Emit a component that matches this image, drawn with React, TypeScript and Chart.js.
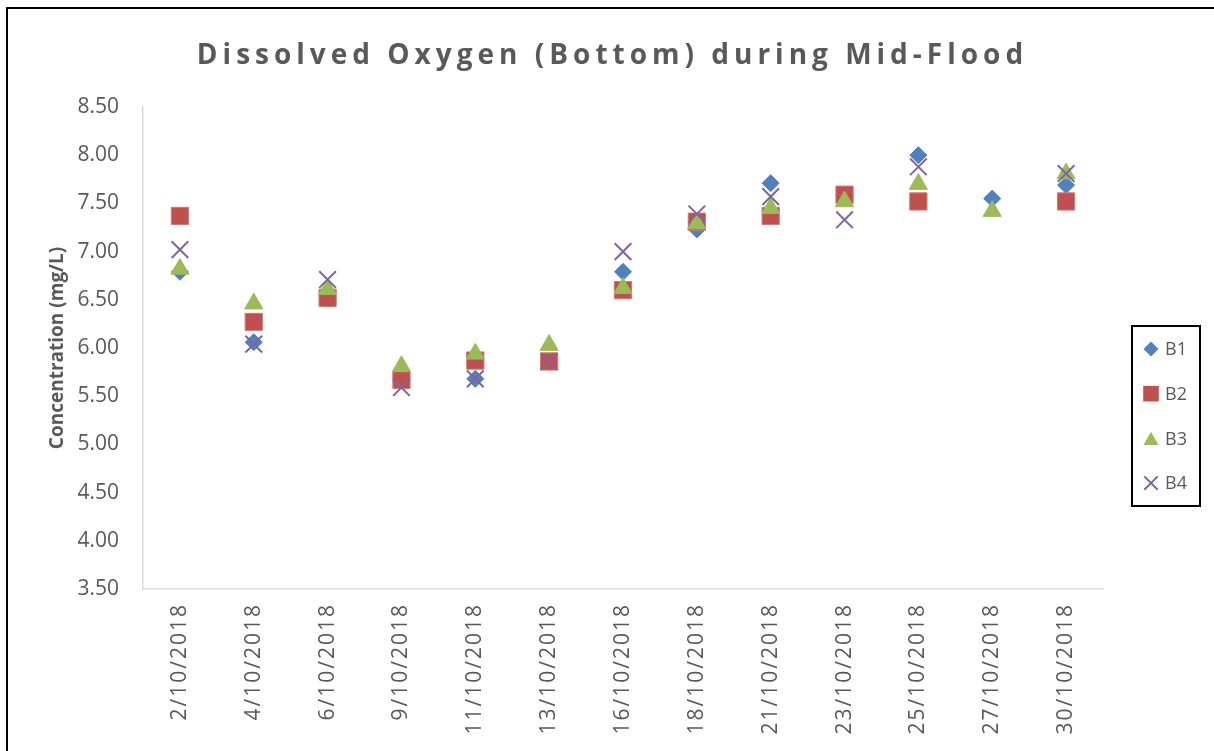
import React, { useEffect, useRef } from 'react';
import { Chart, registerables } from 'chart.js';

Chart.register(...registerables);

const categories = [
  '2/10/2018', '4/10/2018', '6/10/2018', '9/10/2018', '11/10/2018', '13/10/2018',
  '16/10/2018', '18/10/2018', '21/10/2018', '23/10/2018', '25/10/2018', '27/10/2018', '30/10/2018',
];
const seriesNames = ['B1', 'B2', 'B3', 'B4'];
const b1 = [6.79, 6.06, 6.52, 5.67, 5.68, 5.86, 6.79, 7.23, 7.71, 7.58, 8.0, 7.55, 7.69];
const b2 = [7.37, 6.27, 6.52, 5.67, 5.87, 5.86, 6.6, 7.31, 7.37, 7.59, 7.52, null, 7.52];
const b3 = [6.82, 6.46, 6.61, 5.81, 5.94, 6.03, 6.62, 7.29, 7.45, 7.52, 7.7, 7.42, 7.81];
const b4 = [7.02, 6.04, 6.71, 5.59, 5.68, 5.86, 7.0, 7.39, 7.57, 7.33, 7.88, null, 7.81];
const yMin = 3.5;
const yMax = 8.5;
const yStep = 0.5;
const titleText = 'Dissolved Oxygen (Bottom) during Mid-Flood';

const colors = ['#4F81BD', '#C0504D', '#9BBB59', '#8064A2'];
const styles = ['rectRot', 'rect', 'triangle', 'crossRot'];
const TEXT = '#595959';

const spacingPlugin = {
  id: 'spacingPatch',
  beforeLayout(chart: any) {
    const box = chart.scales.x;
    if (!box || box.__sp) return;
    const orig = box.draw;
    box.draw = function (area: any) {
      const c = chart.ctx;
      c.save();
      (c as any).letterSpacing = '2px';
      orig.call(this, area);
      c.restore();
    };
    box.__sp = true;
  },
};

const titlePlugin = {
  id: 'spacedTitle',
  afterDraw(chart: any) {
    const ctx = chart.ctx;
    const spacing = 5;
    ctx.save();
    ctx.font = 'bold 28px "Open Sans"';
    (ctx as any).letterSpacing = '0px';
    const w0 = ctx.measureText(titleText).width;
    const total = w0 + spacing * (titleText.length - 1);
    (ctx as any).letterSpacing = spacing + 'px';
    ctx.fillStyle = TEXT;
    ctx.textAlign = 'left';
    ctx.textBaseline = 'alphabetic';
    ctx.fillText(titleText, chart.width / 2 + 3 - total / 2, 64);
    ctx.restore();
  },
};

const legendPlugin = {
  id: 'boxLegend',
  afterDraw(chart: any) {
    const ctx = chart.ctx;
    const area = chart.chartArea;
    const left = area.right + 29;
    const top = area.top + 219;
    const w = 68;
    const h = 180;
    ctx.save();
    ctx.strokeStyle = '#000';
    ctx.lineWidth = 2;
    ctx.strokeRect(left, top, w, h);
    chart.data.datasets.forEach((ds: any) => {
      const idx = seriesNames.indexOf(ds.label);
      const cy = top + 23 + idx * 44.7;
      const cx = left + 19;
      const col = colors[idx];
      ctx.fillStyle = col;
      ctx.strokeStyle = col;
      ctx.beginPath();
      if (styles[idx] === 'rectRot') {
        const r = 7.5;
        ctx.moveTo(cx, cy - r);
        ctx.lineTo(cx + r, cy);
        ctx.lineTo(cx, cy + r);
        ctx.lineTo(cx - r, cy);
        ctx.closePath();
        ctx.fill();
      } else if (styles[idx] === 'rect') {
        const r = 7.8;
        ctx.rect(cx - r, cy - r, 2 * r, 2 * r);
        ctx.fill();
      } else if (styles[idx] === 'triangle') {
        const hw = 7.5;
        const hh = 6.7;
        ctx.moveTo(cx, cy - hh);
        ctx.lineTo(cx + hw, cy + hh);
        ctx.lineTo(cx - hw, cy + hh);
        ctx.closePath();
        ctx.fill();
      } else {
        const r = 6.7;
        ctx.lineWidth = 2;
        ctx.moveTo(cx - r, cy - r);
        ctx.lineTo(cx + r, cy + r);
        ctx.moveTo(cx + r, cy - r);
        ctx.lineTo(cx - r, cy + r);
        ctx.stroke();
      }
      ctx.fillStyle = TEXT;
      ctx.font = '18px "Open Sans"';
      ctx.textBaseline = 'middle';
      ctx.textAlign = 'left';
      ctx.fillText(ds.label, left + 33, cy + 1);
    });
    ctx.restore();
  },
};

export default function App() {
  const canvasRef = useRef<HTMLCanvasElement | null>(null);

  useEffect(() => {
    const canvas = canvasRef.current;
    if (!canvas) return;
    const seriesData = [b1, b2, b3, b4];
    const radii = [8.5, 12.2, 10.5, 11.8];
    const datasets = seriesData.map((d, i) => ({
      label: seriesNames[i],
      data: d,
      showLine: false,
      pointStyle: styles[i],
      pointRadius: radii[i],
      pointHoverRadius: radii[i],
      pointBackgroundColor: colors[i],
      pointBorderColor: i === 1 ? '#D07A78' : colors[i],
      pointBorderWidth: i === 3 ? 2 : 1,
      borderColor: colors[i],
      backgroundColor: colors[i],
      order: 3 - i,
    }));
    const chart = new Chart(canvas, {
      type: 'line',
      data: { labels: categories, datasets },
      plugins: [spacingPlugin, titlePlugin, legendPlugin],
      options: {
        responsive: false,
        animation: false,
        layout: { padding: { left: 0, right: 111, top: 107, bottom: 0 }, autoPadding: false },
        plugins: {
          legend: { display: false },
          tooltip: { enabled: false },
          title: { display: false },
        },
        scales: {
          x: {
            type: 'category',
            offset: true,
            grid: { display: false, drawTicks: false },
            border: { display: true, color: '#D9D9D9', width: 1.5 },
            ticks: {
              autoSkip: false,
              maxRotation: 90,
              minRotation: 90,
              padding: 14,
              color: TEXT,
              font: { family: '"Open Sans"', size: 21 },
            },
            afterFit: (s: any) => {
              s.height = 162;
            },
          },
          y: {
            min: yMin,
            max: yMax,
            grid: { display: false, drawTicks: false },
            border: { display: true, color: '#D9D9D9', width: 1.5 },
            ticks: {
              stepSize: yStep,
              padding: 24,
              color: TEXT,
              font: { family: '"Open Sans"', size: 21 },
              callback: (v: any) => Number(v).toFixed(2),
            },
            title: {
              display: true,
              text: 'Concentration (mg/L)',
              color: TEXT,
              font: { family: '"Open Sans"', size: 19, weight: 'bold' },
              padding: { top: 46, bottom: 0 },
            },
            afterFit: (s: any) => {
              s.width = 143;
            },
          },
        },
      },
    });
    return () => chart.destroy();
  }, []);

  return (
    <div style={{ position: 'fixed', left: 0, top: 0, width: 1214, height: 751, overflow: 'hidden', background: '#fff' }}>
      <canvas ref={canvasRef} width={1214} height={751} style={{ display: 'block' }} />
      <div
        style={{
          position: 'absolute',
          left: 6,
          top: 7,
          width: 1300,
          height: 900,
          border: '2px solid #000',
          pointerEvents: 'none',
        }}
      />
    </div>
  );
}
